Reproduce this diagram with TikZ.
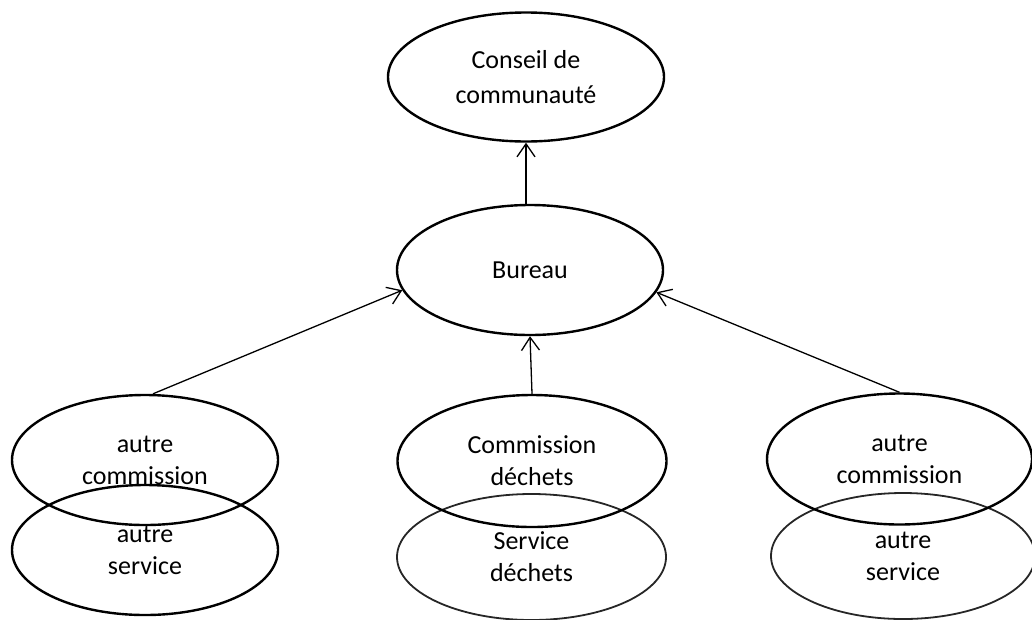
\documentclass[tikz,border=0pt]{standalone}
\usepackage{fontspec}
\setmainfont{Carlito}
\usetikzlibrary{shapes.geometric,arrows.meta}
\begin{document}
\begin{tikzpicture}[x=1pt,y=-1pt,
  ell/.style={draw=black,line width=2.4pt,ellipse,inner sep=0pt,align=center,
    font=\fontsize{26}{32}\selectfont},
  ellthin/.style={ell,draw=black!85,line width=1.8pt},
  conn/.style={line width=1.3pt,-{Straight Barb[length=13pt,width=18pt,line width=1.3pt]}}]
\useasboundingbox (0,0) rectangle (1032,619);
\node[ell,minimum width=276pt,minimum height=129pt,font=\fontsize{26}{35}\selectfont] (cons) at (526,77) {Conseil de\\communauté};
\node[ell,minimum width=266pt,minimum height=130pt] (bur) at (530,270) {Bureau};
% services first (commissions drawn over them)
\node[ell,minimum width=266pt,minimum height=130pt] (ls) at (145,550) {autre\\service};
\node[ellthin,minimum width=269pt,minimum height=126pt] (ms) at (531.5,557) {Service\\déchets};
\node[ellthin,minimum width=264pt,minimum height=126pt] (rs) at (903,556) {autre\\service};
\node[ell,minimum width=266pt,minimum height=130pt] (lc) at (145,460) {autre\\commission};
\node[ell,minimum width=269pt,minimum height=132pt] (mc) at (532,461) {Commission\\déchets};
\node[ell,minimum width=265pt,minimum height=131pt] (rc) at (899.5,459) {autre\\commission};
\draw[conn] (bur.north -| cons.south) -- (cons.south);
\draw[conn] ([xshift=8pt]lc.north) -- (bur.189);
\draw[conn] (mc.north) -- (bur.south);
\draw[conn] (rc.north) -- (bur.350);
\end{tikzpicture}
\end{document}
